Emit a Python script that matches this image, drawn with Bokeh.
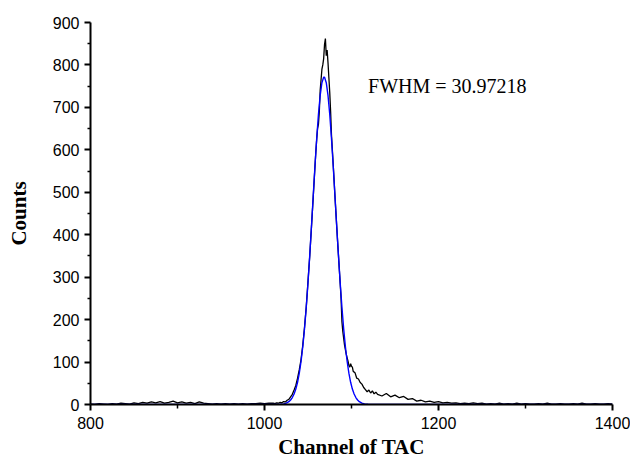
from bokeh.plotting import figure
from bokeh.models import Range1d, FixedTicker, Label
from bokeh.embed import file_html
from bokeh.resources import INLINE

# ---- data ----
x_ticks = [800, 1000, 1200, 1400]
x_minor = [900, 1100, 1300]
y_ticks = [0, 100, 200, 300, 400, 500, 600, 700, 800, 900]
y_minor = [50, 150, 250, 350, 450, 550, 650, 750, 850]

# measured spectrum (channel, counts)
meas_channel = [
    800, 805, 810, 815, 820, 825, 830, 835, 840, 845, 850, 855, 860, 865, 870, 875,
    880, 885, 890, 895, 900, 905, 910, 915, 920, 925, 930, 935, 940, 945, 950, 955,
    960, 965, 970, 975, 980, 985, 990, 995, 1000, 1005,
    1010, 1012, 1014, 1016, 1018, 1020, 1022, 1024, 1026, 1028, 1030, 1032, 1034,
    1036, 1038, 1040, 1042, 1044, 1046, 1048, 1050, 1052, 1054, 1056, 1058, 1059,
    1060, 1061, 1062, 1063, 1064, 1065, 1066, 1067, 1068, 1069, 1070, 1071, 1072,
    1073, 1074, 1075, 1076, 1077, 1078, 1079, 1080, 1081, 1082, 1083, 1084, 1085,
    1086, 1087, 1088, 1089, 1090, 1092, 1094, 1096, 1097, 1098, 1099, 1100, 1101,
    1102, 1104, 1106, 1108, 1110, 1112, 1114, 1116, 1118, 1120, 1122, 1124, 1126,
    1128, 1130,
    1135, 1140, 1145, 1150, 1155, 1160, 1165, 1170, 1175, 1180, 1185, 1190, 1195,
    1200, 1205, 1210, 1215, 1220, 1225, 1230, 1235, 1240, 1245, 1250, 1255, 1260,
    1265, 1270, 1275, 1280, 1285, 1290, 1295, 1300, 1305, 1310, 1315, 1320, 1325,
    1330, 1335, 1340, 1345, 1350, 1355, 1360, 1365, 1370, 1375, 1380, 1385, 1390,
    1395, 1400,
]
meas_counts = [
    1, 0, 2, 1, 0, 2, 1, 3, 2, 1, 4, 2, 5, 3, 6, 4,
    7, 3, 5, 8, 4, 6, 3, 5, 2, 6, 3, 2, 1, 2, 1, 2,
    1, 2, 1, 2, 1, 2, 2, 3, 2, 3,
    3, 2, 4, 3, 5, 4, 7, 6, 10, 12, 18, 24, 34,
    45, 62, 82, 106, 140, 182, 230, 290, 350, 418, 488, 560, 595,
    625, 650, 660, 690, 740, 765, 790, 800, 815, 848, 862, 822, 835,
    805, 770, 735, 690, 635, 600, 565, 528, 490, 455, 420, 385, 352,
    318, 285, 250, 195, 172, 140, 118, 102, 92, 88, 96, 90, 88,
    78, 75, 62, 60, 52, 48, 40, 35, 30, 34, 27, 32, 25,
    29, 24,
    20, 26, 18, 22, 16, 19, 12, 14, 8, 10, 6, 8, 5,
    7, 4, 5, 3, 4, 2, 3, 2, 4, 2, 3, 1, 2,
    1, 3, 1, 2, 1, 3, 1, 2, 1, 1, 2, 1, 3,
    1, 1, 2, 1, 1, 2, 1, 3, 1, 1, 2, 1, 1,
    2, 1,
]

# Gaussian fit curve (channel, counts)
fit_channel = [
    800, 1000, 1018, 1022, 1025, 1028, 1030, 1032, 1034, 1036, 1038, 1040, 1042,
    1044, 1046, 1048, 1050, 1052, 1054, 1056, 1058, 1060, 1062, 1064, 1066, 1068,
    1069, 1071, 1073, 1075, 1077, 1079, 1081, 1083, 1085, 1087, 1089, 1091, 1093,
    1095, 1097, 1099, 1101, 1103, 1105, 1107, 1109, 1112, 1115, 1119, 1140, 1400,
]
fit_counts = [
    0, 0, 0.5, 1.5, 3.2, 6.7, 10.6, 16.4, 24.7, 36.4, 52.4, 73.7, 101.3,
    136.1, 178.6, 229.0, 287.0, 351.3, 420.3, 491.4, 561.2, 626.4, 683.2, 728.1, 758.2, 771.4,
    771.4, 758.2, 728.1, 683.2, 626.4, 561.2, 491.4, 420.3, 351.3, 287.0, 229.0, 178.6, 136.1,
    101.3, 73.7, 52.4, 36.4, 24.7, 16.4, 10.6, 6.7, 3.2, 1.5, 0.5, 0, 0,
]

fwhm_text = "FWHM = 30.97218"
x_label = "Channel of TAC"
y_label = "Counts"

# ---- figure ----
p = figure(width=630, height=461, output_backend="svg", toolbar_location=None,
           x_range=Range1d(800, 1400), y_range=Range1d(0, 900),
           min_border_left=90, min_border_right=18, min_border_top=22, min_border_bottom=56)
p.outline_line_color = None
p.xgrid.visible = False
p.ygrid.visible = False
p.background_fill_color = "white"
p.border_fill_color = "white"

p.line(meas_channel, meas_counts, line_color="black", line_width=1.3)
p.line(fit_channel, fit_counts, line_color="#0000FF", line_width=1.4)

p.add_layout(Label(x=1119, y=750, text=fwhm_text, text_font="Liberation Serif",
                   text_font_size="20px", text_color="black", text_baseline="middle"))

for ax in (p.xaxis[0], p.yaxis[0]):
    ax.axis_line_width = 2
    ax.axis_line_color = "black"
    ax.major_tick_line_width = 2
    ax.minor_tick_line_width = 1.5
    ax.major_tick_in = 0
    ax.minor_tick_in = 0
    ax.major_tick_out = 6
    ax.minor_tick_out = 3
    ax.major_label_text_font = "Liberation Sans"
    ax.major_label_text_font_size = "16px"
    ax.major_label_text_color = "black"
    ax.axis_label_text_font = "Liberation Serif"
    ax.axis_label_text_font_style = "bold"
    ax.axis_label_text_font_size = "21px"
    ax.axis_label_text_color = "black"

p.xaxis.ticker = FixedTicker(ticks=x_ticks, minor_ticks=x_minor)
p.yaxis.ticker = FixedTicker(ticks=y_ticks, minor_ticks=y_minor)
p.xaxis.axis_label = x_label
p.yaxis.axis_label = y_label
p.xaxis.minor_tick_out = 4
p.xaxis.major_label_standoff = 6
p.yaxis.major_label_standoff = 5
p.xaxis.axis_label_standoff = 3
p.yaxis.axis_label_standoff = 19

open("out.html", "w").write(file_html(p, INLINE))
